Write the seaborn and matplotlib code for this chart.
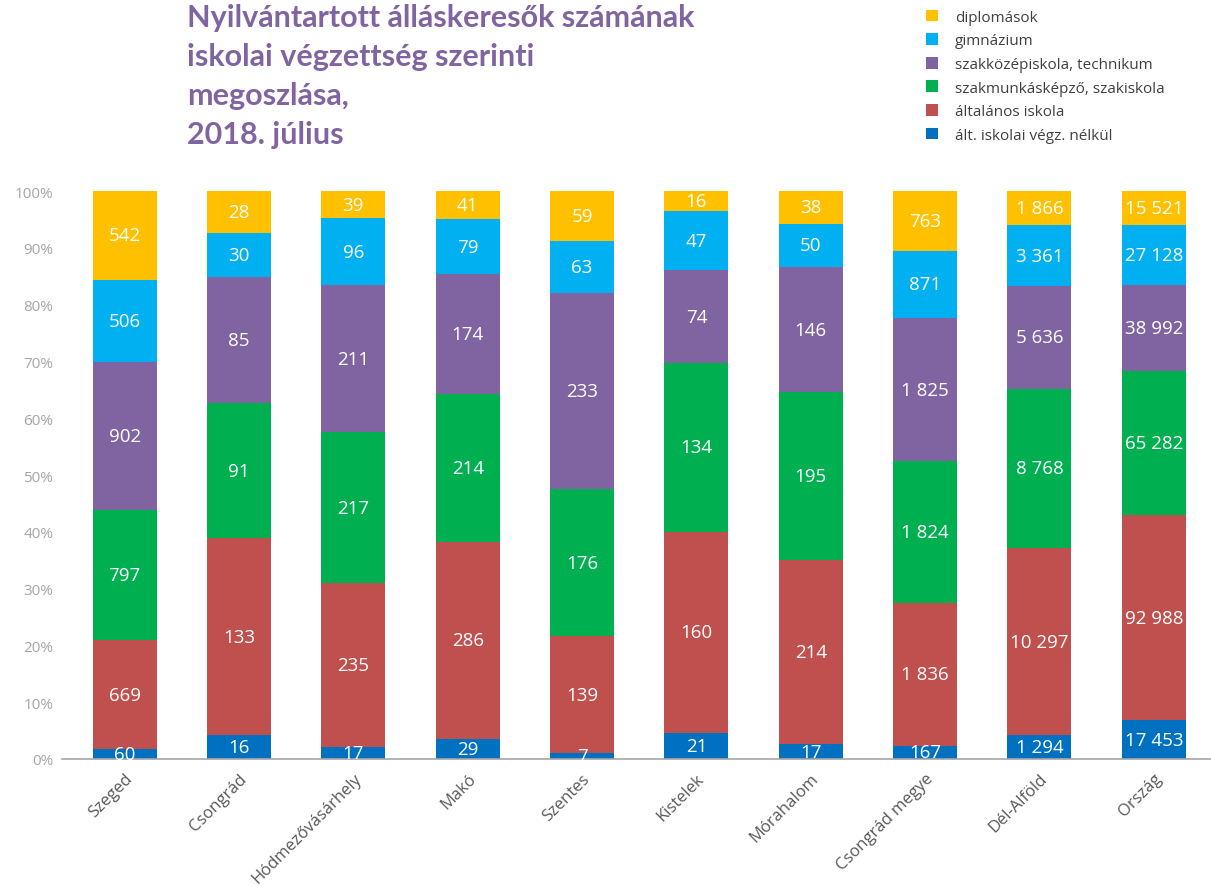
import numpy as np
import pandas as pd
import matplotlib
matplotlib.use("Agg")
import matplotlib.pyplot as plt
import seaborn as sns
from matplotlib.patches import Patch
from matplotlib.ticker import FuncFormatter

sns.set_theme(style="white")
plt.rcParams['font.family'] = ['Open Sans', 'DejaVu Sans']

places = ["Szeged", "Csongrád", "Hódmezővásárhely", "Makó", "Szentes", "Kistelek",
          "Mórahalom", "Csongrád megye", "Dél-Alföld", "Ország"]
series_names = ["ált. iskolai végz. nélkül", "általános iskola", "szakmunkásképző, szakiskola",
                "szakközépiskola, technikum", "gimnázium", "diplomások"]
nelkul = [60, 16, 17, 29, 7, 21, 17, 167, 1294, 17453]
altalanos = [669, 133, 235, 286, 139, 160, 214, 1836, 10297, 92988]
szakmunkas = [797, 91, 217, 214, 176, 134, 195, 1824, 8768, 65282]
szakkozep = [902, 85, 211, 174, 233, 74, 146, 1825, 5636, 38992]
gimnazium = [506, 30, 96, 79, 63, 47, 50, 871, 3361, 27128]
diplomasok = [542, 28, 39, 41, 59, 16, 38, 763, 1866, 15521]
colors = ["#0070C0", "#C0504D", "#00B050", "#8064A2", "#00B0F0", "#FFC000"]

vals = np.array([nelkul, altalanos, szakmunkas, szakkozep, gimnazium, diplomasok], dtype=float)
tot = vals.sum(axis=0)
pct = vals / tot * 100
cum = np.cumsum(pct, axis=0)

fig = plt.figure(figsize=(12.11, 8.87), dpi=100)
ax = fig.add_axes([0.051, 0.1432, 0.949, 0.6403])

for i in range(len(series_names) - 1, -1, -1):
    df = pd.DataFrame({"place": places, "cum": cum[i]})
    sns.barplot(data=df, x="place", y="cum", order=places, color=colors[i],
                saturation=1, width=0.56, errorbar=None, linewidth=0, ax=ax)

def fmt(v):
    return f"{int(v):,}".replace(",", " ")

for i in range(len(series_names)):
    for j in range(len(places)):
        y = cum[i, j] - pct[i, j] / 2
        ax.text(j, y, fmt(vals[i, j]), ha="center", va="center", color="white", fontsize=13.5)

ax.set_ylim(0, 100)
ax.set_xlim(-0.55, 9.5)
ax.set_yticks(np.arange(0, 101, 10))
ax.yaxis.set_major_formatter(FuncFormatter(lambda v, p: f"{int(v)}%"))
ax.tick_params(axis="y", colors="#A6A6A6", labelsize=11, length=0, pad=6)
ax.tick_params(axis="x", colors="#595959", labelsize=12, length=0, pad=8)
plt.setp(ax.get_xticklabels(), rotation=45, ha="right", rotation_mode="anchor")
ax.set_xlabel("")
ax.set_ylabel("")
for s in ["top", "right", "left"]:
    ax.spines[s].set_visible(False)
ax.spines["bottom"].set_color("#A6A6A6")
ax.spines["bottom"].set_linewidth(1.2)

fig.text(187 / 1211, 1 - 4 / 887,
         "Nyilvántartott álláskeresők számának\niskolai végzettség szerinti\nmegoszlása,\n2018. július",
         ha="left", va="top", fontsize=22, fontweight="bold", color="#8064A2",
         linespacing=1.48, family=["Lato", "DejaVu Sans"])

handles = [Patch(facecolor=colors[i], edgecolor="none") for i in range(len(series_names) - 1, -1, -1)]
labels = [series_names[i] for i in range(len(series_names) - 1, -1, -1)]
leg = fig.legend(handles, labels, loc="upper left", bbox_to_anchor=(912 / 1211, 1 + 3 / 887),
                 frameon=False, fontsize=11, handlelength=0.8, handleheight=0.8,
                 labelspacing=0.55, handletextpad=1.1)
for t in leg.get_texts():
    t.set_color("#404040")

fig.savefig("out.png", dpi=100)
